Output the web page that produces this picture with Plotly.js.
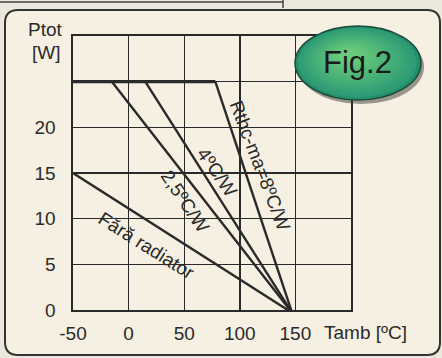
<!DOCTYPE html>
<html>
<head>
<meta charset="utf-8">
<script src="https://cdn.plot.ly/plotly-3.0.1.min.js"></script>
<style>html,body{margin:0;padding:0;background:#ebe7dc;}#chart{width:442px;height:358px;}</style>
</head>
<body>
<div id="chart"></div>
<script>
// ---- data ----
const limitX = [-50, 78];          // Ptot limit (25 W)
const limitY = [25, 25];
const r8X = [78, 147];   const r8Y = [25, -0.3];
const r4X = [15, 147];   const r4Y = [25, -0.3];
const r25X = [-15, 147]; const r25Y = [25, -0.3];
const noRadX = [-50, 147]; const noRadY = [15, -0.3];

const xTickVals = [-50, 0, 50, 100, 150, 200];
const xTickText = ['-50', '0', '50', '100', '150', ''];
const yTickVals = [0, 5, 10, 15, 20, 25, 30];
const yTickText = ['0', '5', '10', '15', '20', '', ''];

const labels = ['Rthc-ma=8ºC/W', '4ºC/W', '2,5ºC/W', 'Fără radiator'];
const labelX = [118, 80, 51, 16];
const labelY = [15.8, 15.1, 11.9, 7.1];
const labelAngle = [69, 55, 56, 32];

// ---- layout helpers (pixel -> paper) ----
const L = 73, R = 91, T = 36, B = 48, W = 442, H = 358;
const pw = W - L - R, ph = H - T - B;
const px = v => (v - L) / pw;
const py = v => (H - B - v) / ph;

const ink = '#2a2a2a';
const line = (x, y, w) => ({x: x, y: y, type: 'scatter', mode: 'lines',
  line: {color: ink, width: w}, cliponaxis: false, hoverinfo: 'skip', showlegend: false});

const traces = [
  line(limitX, limitY, 3.2),
  line(r8X, r8Y, 2.4),
  line(r4X, r4Y, 2.4),
  line(r25X, r25Y, 2.4),
  line(noRadX, noRadY, 2.4)
];

// rounded frame
function roundRect(x0, y0, x1, y1, r) {
  const X0 = px(x0), X1 = px(x1), Y0 = py(y0), Y1 = py(y1);
  const rx = r / pw, ry = r / ph;
  return `M${X0 + rx},${Y0} L${X1 - rx},${Y0} Q${X1},${Y0} ${X1},${Y0 - ry} ` +
    `L${X1},${Y1 + ry} Q${X1},${Y1} ${X1 - rx},${Y1} L${X0 + rx},${Y1} ` +
    `Q${X0},${Y1} ${X0},${Y1 + ry} L${X0},${Y0 - ry} Q${X0},${Y0} ${X0 + rx},${Y0} Z`;
}

const shapes = [
  {type: 'path', xref: 'paper', yref: 'paper', layer: 'below',
   path: roundRect(5, 10, 440, 355, 13), fillcolor: '#f5f0e1',
   line: {color: '#333', width: 2}},
  {type: 'line', xref: 'paper', yref: 'paper', x0: px(0), x1: px(283), y0: py(2), y1: py(2),
   line: {color: '#444', width: 1.5}},
  {type: 'line', xref: 'paper', yref: 'paper', x0: px(283), x1: px(283), y0: py(0), y1: py(8),
   line: {color: '#444', width: 1.5}}
];

// Fig.2 ellipse with faux gradient
const ecx = 358, ecy = 63, erx = 63, ery = 37;
function ell(cx, cy, rx, ry, fill, lc, lw) {
  return {type: 'circle', xref: 'paper', yref: 'paper', layer: 'above',
    x0: px(cx - rx), x1: px(cx + rx), y0: py(cy + ry), y1: py(cy - ry),
    fillcolor: fill, line: {color: lc || fill, width: lw || 0}};
}
shapes.push(ell(ecx + 3, ecy + 4, erx, ery, 'rgba(60,60,50,0.5)'));
shapes.push(ell(ecx, ecy, erx, ery, '#23906c', '#1d4a3a', 1.5));
const nSteps = 14;
for (let i = 1; i <= nSteps; i++) {
  const t = i / nSteps;
  const k = 1 - t * 0.85;
  const r = Math.round(0x2a + t * (0x6c - 0x2a));
  const g = Math.round(0x98 + t * (0xcc - 0x98));
  const b = Math.round(0x74 + t * (0x7c - 0x74));
  shapes.push(ell(ecx - t * 10, ecy - t * 8, erx * k, ery * k, `rgb(${r},${g},${b})`));
}

const font = {family: 'Liberation Sans, Arial, sans-serif', size: 19, color: ink};

const annotations = labels.map((t, i) => ({
  x: labelX[i], y: labelY[i], xref: 'x', yref: 'y', text: t, showarrow: false,
  xanchor: 'center', yanchor: 'middle', textangle: labelAngle[i], font: font
}));
const pa = (x, y, t, f) => ({xref: 'paper', yref: 'paper', x: px(x), y: py(y), text: t,
  showarrow: false, xanchor: 'center', yanchor: 'middle', font: f || font});
annotations.push(
  pa(45, 30, 'Ptot'),
  pa(46, 52, '[W]'),
  pa(365, 332, 'Tamb [ºC]'),
  pa(357, 62, 'Fig.2', {family: 'Liberation Sans, Arial, sans-serif', size: 31, color: '#1a1a1a'})
);

const axisCommon = {showline: true, mirror: true, linecolor: ink, linewidth: 1.6,
  showgrid: true, gridcolor: ink, gridwidth: 1.4, zeroline: false, ticks: '',
  tickfont: font, tickmode: 'array', fixedrange: true};

const layout = {
  width: W, height: H,
  margin: {l: L, r: R, t: T, b: B, pad: 0},
  paper_bgcolor: '#ebe7dc', plot_bgcolor: 'rgba(0,0,0,0)',
  showlegend: false,
  xaxis: Object.assign({}, axisCommon, {range: [-50, 200], tickvals: xTickVals, ticktext: xTickText, ticklabelstandoff: 6}),
  yaxis: Object.assign({}, axisCommon, {range: [0, 30], tickvals: yTickVals, ticktext: yTickText, ticklabelstandoff: 12}),
  shapes: shapes,
  annotations: annotations
};

Plotly.newPlot('chart', traces, layout, {staticPlot: true, displayModeBar: false});
</script>
</body>
</html>
